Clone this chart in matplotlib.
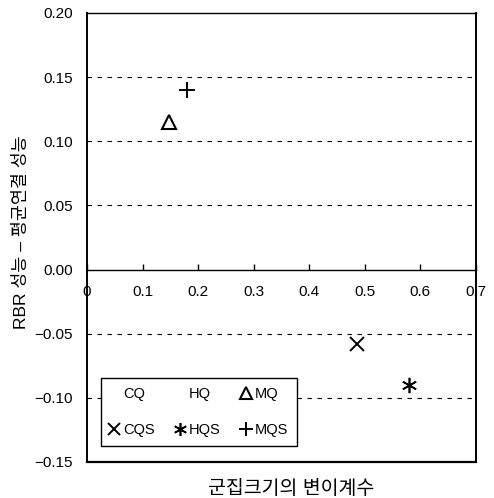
import matplotlib
matplotlib.use("Agg")
import matplotlib.pyplot as plt

# ---- data ----
cq_x, cq_y = [], []
hq_x, hq_y = [], []
mq_x, mq_y = [0.148], [0.115]
cqs_x, cqs_y = [0.486], [-0.058]
hqs_x, hqs_y = [0.579], [-0.090]
mqs_x, mqs_y = [0.180], [0.140]

x_ticks = [0, 0.1, 0.2, 0.3, 0.4, 0.5, 0.6, 0.7]
x_tick_labels = ["0", "0.1", "0.2", "0.3", "0.4", "0.5", "0.6", "0.7"]
y_ticks = [-0.15, -0.10, -0.05, 0.00, 0.05, 0.10, 0.15, 0.20]
y_tick_labels = ["−0.15", "−0.10", "−0.05", "0.00", "0.05", "0.10", "0.15", "0.20"]
grid_levels = [-0.10, -0.05, 0.05, 0.10, 0.15]

x_label = "군집크기의 변이계수"
y_label = "RBR 성능 – 평균연결 성능"

plt.rcParams['font.family'] = ['Liberation Sans', 'Noto Sans CJK KR', 'DejaVu Sans']

fig = plt.figure(figsize=(4.94, 4.98), dpi=100)
ax = fig.add_axes([0.176, 0.0723, 0.7874, 0.9016])
ax.set_xlim(0, 0.7)
ax.set_ylim(-0.15, 0.20)

for g in grid_levels:
    ax.axhline(g, color='black', lw=0.8, ls=(0, (4, 5)), zorder=1)

ms = 10
h_cq, = ax.plot(cq_x, cq_y, ls='none', marker='s', color='none', mfc='none', mec='none', label='CQ')
h_hq, = ax.plot(hq_x, hq_y, ls='none', marker='s', color='none', mfc='none', mec='none', label='HQ')
h_mq, = ax.plot(mq_x, mq_y, ls='none', marker='^', ms=ms, mfc='none', mec='black', mew=1.5, label='MQ', zorder=3)
h_cqs, = ax.plot(cqs_x, cqs_y, ls='none', marker='x', ms=ms, mec='black', mew=1.4, label='CQS', zorder=3)
h_hqs, = ax.plot(hqs_x, hqs_y, ls='none', marker=(6, 2, 0), ms=ms + 1, mec='black', mew=1.2, label='HQS', zorder=3)
h_mqs, = ax.plot(mqs_x, mqs_y, ls='none', marker='+', ms=ms + 2, mec='black', mew=1.4, label='MQS', zorder=3)

# spines
for s in ['left', 'right']:
    ax.spines[s].set_linewidth(1.4)
ax.spines['top'].set_linewidth(1.0)
ax.spines['bottom'].set_position(('data', 0))
ax.spines['bottom'].set_linewidth(1.0)
ax.axhline(-0.15, color='black', lw=1.6, clip_on=False, zorder=4)

ax.set_xticks(x_ticks)
ax.set_xticklabels(x_tick_labels)
ax.set_yticks(y_ticks)
ax.set_yticklabels(y_tick_labels)
ax.tick_params(axis='x', direction='in', length=4, width=1.0, pad=11, labelsize=11)
ax.tick_params(axis='y', length=0, pad=10, labelsize=11)

fig.text(0.042, 0.534, y_label, rotation=90, ha='center', va='center', fontsize=12.5)
fig.text(0.59, 0.018, x_label, ha='center', va='center', fontsize=14)

handles = [h_cq, h_cqs, h_hq, h_hqs, h_mq, h_mqs]
leg = ax.legend(handles=handles, labels=[h.get_label() for h in handles], ncol=3,
                loc='lower left', bbox_to_anchor=(0.036, 0.036), borderaxespad=0,
                fancybox=False, framealpha=1, edgecolor='black', fontsize=10.5,
                handlelength=0.6, handletextpad=0.3, columnspacing=1.45,
                labelspacing=1.5, borderpad=0.6, markerscale=0.85)
leg.get_frame().set_linewidth(1.0)
leg.set_zorder(5)

fig.savefig("out.png", dpi=100)
